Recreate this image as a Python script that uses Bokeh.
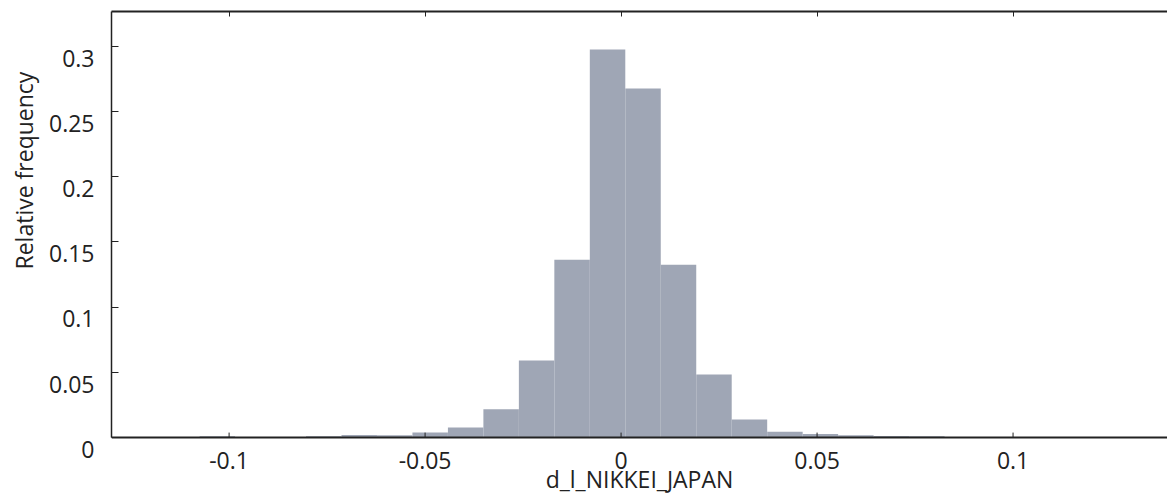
from bokeh.plotting import figure
from bokeh.models import (Range1d, LinearAxis, FixedTicker, Title, Span,
                          ColumnDataSource)
from bokeh.embed import file_html
from bokeh.resources import INLINE

# ---- data ----
bin_mid = [-0.1211, -0.11205, -0.1030, -0.09395, -0.0849, -0.07585, -0.0668,
           -0.05775, -0.0487, -0.03965, -0.0306, -0.02155, -0.0125, -0.00345,
           0.0056, 0.01465, 0.0237, 0.03275, 0.0418, 0.05085, 0.0599, 0.06895,
           0.0780, 0.08705, 0.0961, 0.10515, 0.1142, 0.12325, 0.1323]
rel_freq = [0.00014, 0.00014, 0.0009, 0.0, 0.00014, 0.0010, 0.0020,
            0.0018, 0.0038, 0.0077, 0.0216, 0.0590, 0.1362, 0.2975,
            0.2675, 0.1324, 0.0484, 0.0139, 0.0045, 0.0028, 0.0018, 0.0012,
            0.0010, 0.0, 0.00014, 0.0, 0.0, 0.0, 0.00014]
bin_width = 0.00905

x_ticks = [-0.1, -0.05, 0, 0.05, 0.1]
x_tick_labels = ["-0.1", "-0.05", "0", "0.05", "0.1"]
y_ticks = [0, 0.05, 0.1, 0.15, 0.2, 0.25, 0.3]
y_tick_labels = ["0", "0.05", "0.1", "0.15", "0.2", "0.25", "0.3"]

x_title = "d_l_NIKKEI_JAPAN"
y_title = "Relative frequency"

FONT = "Open Sans"
FS = "23px"
TXT = "#222222"
AX = "#222222"

Y_TOP = 0.3266
Y_PAD = 0.00917          # room below zero for the lowered y tick labels
LABEL_SHIFT = 0.00912    # y tick labels sit a little below their ticks
X_TICK_LEN = 0.0038

src = ColumnDataSource(dict(
    left=[m - bin_width / 2 for m in bin_mid],
    right=[m + bin_width / 2 for m in bin_mid],
    top=rel_freq,
    bottom=[0] * len(rel_freq),
))

p = figure(width=1167, height=497,
           x_range=Range1d(-0.13, 0.1394), y_range=Range1d(-Y_PAD, Y_TOP),
           output_backend="svg", toolbar_location=None,
           x_axis_location=None, y_axis_location=None,
           min_border_left=111, min_border_right=0,
           min_border_top=11, min_border_bottom=47)
p.extra_y_ranges = {"lab": Range1d(-Y_PAD + LABEL_SHIFT, Y_TOP + LABEL_SHIFT)}
p.outline_line_color = None
p.background_fill_color = "white"
p.border_fill_color = "white"
p.grid.visible = False

p.quad(left="left", right="right", top="top", bottom="bottom", source=src,
       fill_color="#9fa6b5", line_color=None)

# baseline and small upward ticks on it
p.add_layout(Span(location=0, dimension="width", line_color=AX, line_width=2))
p.segment(x0=x_ticks, y0=[0] * len(x_ticks), x1=x_ticks,
          y1=[X_TICK_LEN] * len(x_ticks), line_color=AX, line_width=1)

xt = FixedTicker(ticks=x_ticks)
yt = FixedTicker(ticks=y_ticks)


def no_labels(ax):
    ax.major_label_text_color = None
    ax.major_label_text_font_size = "1px"
    ax.major_label_standoff = 0
    ax.major_label_overrides = {t: "" for t in ax.ticker.ticks}


# left axis: line + inward ticks
left_line = LinearAxis(ticker=yt, bounds=(0, Y_TOP))
left_line.axis_line_color = AX
left_line.axis_line_width = 1.5
left_line.major_tick_in = 7
left_line.major_tick_out = 0
left_line.major_tick_line_color = AX
left_line.minor_tick_line_color = None
no_labels(left_line)
p.add_layout(left_line, "left")

# left axis: labels only, drawn slightly below their ticks
left_lab = LinearAxis(ticker=FixedTicker(ticks=y_ticks), y_range_name="lab",
                      major_label_overrides={t: s for t, s in zip(y_ticks, y_tick_labels)})
left_lab.axis_line_color = None
left_lab.major_tick_line_color = None
left_lab.minor_tick_line_color = None
left_lab.major_tick_in = 0
left_lab.major_tick_out = 0
left_lab.major_label_standoff = 17
left_lab.major_label_text_font = FONT
left_lab.major_label_text_font_size = FS
left_lab.major_label_text_color = TXT
p.add_layout(left_lab, "left")

# top axis: line + inward ticks
top = LinearAxis(ticker=xt)
top.axis_line_color = AX
top.axis_line_width = 2
top.major_tick_in = 5
top.major_tick_out = 0
top.major_tick_line_color = AX
top.minor_tick_line_color = None
no_labels(top)
p.add_layout(top, "above")

# bottom axis: labels + title
bottom = LinearAxis(ticker=FixedTicker(ticks=x_ticks),
                    major_label_overrides={t: s for t, s in zip(x_ticks, x_tick_labels)})
bottom.axis_line_color = None
bottom.major_tick_line_color = None
bottom.minor_tick_line_color = None
bottom.major_tick_in = 0
bottom.major_tick_out = 0
bottom.major_label_standoff = 2
bottom.major_label_text_font = FONT
bottom.major_label_text_font_size = FS
bottom.major_label_text_color = TXT
bottom.axis_label = x_title
bottom.axis_label_standoff = -9
bottom.axis_label_text_font = FONT
bottom.axis_label_text_font_size = FS
bottom.axis_label_text_font_style = "normal"
bottom.axis_label_text_color = TXT
p.add_layout(bottom, "below")

p.add_layout(Title(text=y_title, align="left", offset=180, standoff=10,
                   vertical_align="top",
                   text_font=FONT, text_font_size=FS, text_font_style="normal",
                   text_color=TXT), "left")

open("out.html", "w").write(file_html(p, INLINE))
